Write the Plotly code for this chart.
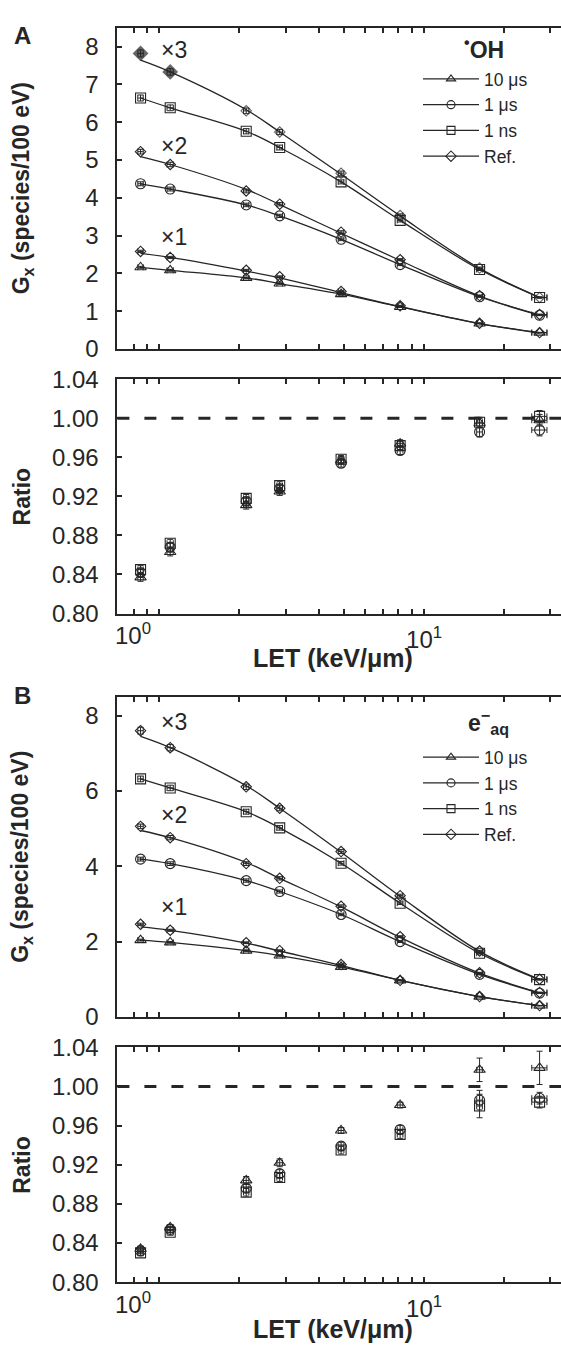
import plotly.graph_objects as go

# ---------------- data ----------------
LET = [0.85, 1.10, 2.13, 2.85, 4.86, 8.12, 16.2, 27.3]
LET_ERR = [0.02, 0.03, 0.05, 0.07, 0.12, 0.2, 0.4, 1.8]

# Panel A : OH  (plotted values, already multiplied by x1/x2/x3)
A_REF3 = [7.82, 7.33, 6.30, 5.74, 4.65, 3.53, 2.14, 1.36]
A_REF3_FIT = [7.64, 7.33, 6.33, 5.74, 4.62, 3.52, 2.13, 1.36]
A_NS1_3 = [6.64, 6.38, 5.76, 5.33, 4.42, 3.40, 2.10, 1.36]
A_REF2 = [5.22, 4.88, 4.18, 3.83, 3.09, 2.36, 1.41, 0.91]
A_REF2_FIT = [5.09, 4.88, 4.22, 3.82, 3.06, 2.34, 1.40, 0.90]
A_US1_2 = [4.37, 4.23, 3.81, 3.52, 2.90, 2.23, 1.38, 0.89]
A_REF1 = [2.58, 2.42, 2.08, 1.91, 1.52, 1.14, 0.68, 0.43]
A_REF1_FIT = [2.53, 2.42, 2.06, 1.88, 1.49, 1.12, 0.67, 0.42]
A_US10_1 = [2.16, 2.08, 1.88, 1.73, 1.45, 1.11, 0.67, 0.43]

A_RATIO_US10 = [0.837, 0.863, 0.911, 0.925, 0.957, 0.974, 0.995, 0.998]
A_RATIO_US1 = [0.842, 0.868, 0.915, 0.928, 0.954, 0.967, 0.986, 0.988]
A_RATIO_NS1 = [0.845, 0.872, 0.918, 0.931, 0.958, 0.972, 0.996, 1.002]
A_RATIO_ERR = [0.004, 0.004, 0.004, 0.004, 0.004, 0.004, 0.005, 0.006]

# Panel B : e-aq
B_REF3 = [7.60, 7.15, 6.11, 5.54, 4.39, 3.22, 1.75, 1.00]
B_REF3_FIT = [7.45, 7.15, 6.14, 5.54, 4.37, 3.20, 1.74, 1.00]
B_NS1_3 = [6.32, 6.08, 5.45, 5.02, 4.08, 3.02, 1.69, 0.99]
B_REF2 = [5.06, 4.76, 4.07, 3.68, 2.94, 2.13, 1.17, 0.65]
B_REF2_FIT = [4.95, 4.76, 4.10, 3.68, 2.92, 2.11, 1.16, 0.64]
B_US1_2 = [4.19, 4.07, 3.62, 3.33, 2.72, 2.00, 1.13, 0.63]
B_REF1 = [2.46, 2.30, 1.97, 1.76, 1.39, 0.97, 0.54, 0.30]
B_REF1_FIT = [2.39, 2.30, 1.96, 1.75, 1.37, 0.97, 0.54, 0.30]
B_US10_1 = [2.04, 1.98, 1.76, 1.63, 1.33, 0.97, 0.54, 0.30]

B_RATIO_US10 = [0.834, 0.856, 0.904, 0.922, 0.955, 0.981, 1.017, 1.019]
B_RATIO_US10_ERR = [0.003, 0.003, 0.004, 0.004, 0.003, 0.003, 0.012, 0.017]
B_RATIO_US1 = [0.832, 0.854, 0.896, 0.911, 0.939, 0.956, 0.986, 0.988]
B_RATIO_US1_ERR = [0.003, 0.003, 0.004, 0.004, 0.004, 0.004, 0.010, 0.006]
B_RATIO_NS1 = [0.830, 0.851, 0.892, 0.907, 0.935, 0.951, 0.980, 0.984]
B_RATIO_NS1_ERR = [0.003, 0.003, 0.004, 0.004, 0.004, 0.004, 0.012, 0.006]

LEGEND_NAMES = ["10 \u03bcs", "1 \u03bcs", "1 ns", "Ref."]
X_TICKS = [0.8, 0.9, 1, 2, 3, 4, 5, 6, 7, 8, 9, 10, 20, 30]
X_TICKTEXT = ["", "", "", "", "", "", "", "", "", "", "", "10<sup>1</sup>", "", ""]

# ---------------- style ----------------
INK = "#262626"
FONT = "Arial, Liberation Sans, sans-serif"
W, H = 561, 1355
SYM = {"us10": "triangle-up-open", "us1": "circle-open", "ns1": "square-open", "ref": "diamond-open"}
SIZE = {"us10": 10, "us1": 10, "ns1": 10, "ref": 8}

X_DOM = [117.4 / W, 1.0]
def ydom(top_px, bot_px):
    return [1 - bot_px / H, 1 - top_px / H]

DOMS = {
    "y": ydom(14, 341.7),
    "y2": ydom(372.7, 611.7),
    "y3": ydom(696.7, 1023.3),
    "y4": ydom(1054.3, 1294),
}

fig = go.Figure()

def add_fit(y, xa, ya):
    fig.add_trace(go.Scatter(x=LET, y=y, mode="lines", line=dict(color=INK, width=1.3, shape="spline", smoothing=1.0),
                             xaxis=xa, yaxis=ya, showlegend=False, hoverinfo="skip"))

def add_pts(y, kind, xa, ya, yerr_pct=None, yerr=None, symbols=None, sizes=None):
    ey = dict(type="percent", value=yerr_pct, color=INK, thickness=1, width=3) if yerr_pct is not None else \
        dict(type="data", array=yerr, color=INK, thickness=1, width=3)
    fig.add_trace(go.Scatter(
        x=LET, y=y, mode="markers", xaxis=xa, yaxis=ya, showlegend=False,
        marker=dict(symbol=symbols if symbols else SYM[kind], size=sizes if sizes else SIZE[kind],
                    color=INK, line=dict(color=INK, width=1.1)),
        error_x=dict(type="data", array=LET_ERR, color=INK, thickness=1, width=3),
        error_y=ey))

# panel A top
for fit, pts, kind, extra in [
    (A_REF3_FIT, A_REF3, "ref", dict(symbols=["diamond", "diamond"] + ["diamond-open"] * 6,
                                     sizes=[11, 11] + [8] * 6)),
    (A_NS1_3, A_NS1_3, "ns1", {}),
    (A_REF2_FIT, A_REF2, "ref", {}),
    (A_US1_2, A_US1_2, "us1", {}),
    (A_REF1_FIT, A_REF1, "ref", {}),
    (A_US10_1, A_US10_1, "us10", {}),
]:
    add_fit(fit, "x", "y")
    add_pts(pts, kind, "x", "y", yerr_pct=1.2, **extra)

# panel B top
for fit, pts, kind in [
    (B_REF3_FIT, B_REF3, "ref"), (B_NS1_3, B_NS1_3, "ns1"),
    (B_REF2_FIT, B_REF2, "ref"), (B_US1_2, B_US1_2, "us1"),
    (B_REF1_FIT, B_REF1, "ref"), (B_US10_1, B_US10_1, "us10"),
]:
    add_fit(fit, "x3", "y3")
    add_pts(pts, kind, "x3", "y3", yerr_pct=1.2)

# ratio panels
for y, kind in [(A_RATIO_NS1, "ns1"), (A_RATIO_US1, "us1"), (A_RATIO_US10, "us10")]:
    add_pts(y, kind, "x2", "y2", yerr=A_RATIO_ERR)
for y, e, kind in [(B_RATIO_NS1, B_RATIO_NS1_ERR, "ns1"), (B_RATIO_US1, B_RATIO_US1_ERR, "us1"),
                   (B_RATIO_US10, B_RATIO_US10_ERR, "us10")]:
    add_pts(y, kind, "x4", "y4", yerr=e)

# legend entries
for lg in ["legend", "legend2"]:
    for name, kind in zip(LEGEND_NAMES, ["us10", "us1", "ns1", "ref"]):
        fig.add_trace(go.Scatter(x=[None], y=[None], mode="lines+markers", name=name, legend=lg,
                                 xaxis="x", yaxis="y",
                                 line=dict(color=INK, width=1.3),
                                 marker=dict(symbol=SYM[kind], size=8, color=INK, line=dict(color=INK, width=1.1))))

# axes
x_common = dict(type="log", range=[-0.158, 1.517], domain=X_DOM, showline=True, linecolor=INK, linewidth=2,
                mirror="ticks", ticks="inside", ticklen=5, tickwidth=1.5, tickcolor=INK,
                tickvals=X_TICKS, showgrid=False, zeroline=False)
y_common = dict(showline=True, linecolor=INK, linewidth=2, ticks="inside", ticklen=5, tickwidth=1.5,
                tickcolor=INK, showgrid=False, zeroline=False,
                tickfont=dict(family=FONT, size=24, color=INK), ticklabelstandoff=12)

layout = dict(width=W, height=H, margin=dict(l=0, r=0, t=0, b=0), plot_bgcolor="white", paper_bgcolor="white",
              font=dict(family=FONT, color=INK))
for i, ax in enumerate(["x", "x2", "x3", "x4"], start=1):
    key = "xaxis" if i == 1 else f"xaxis{i}"
    anchor = "y" if i == 1 else f"y{i}"
    d = dict(x_common, anchor=anchor)
    if i in (2, 4):
        d.update(ticktext=X_TICKTEXT, tickfont=dict(family=FONT, size=24, color=INK), ticklabelstandoff=4)
    else:
        d.update(showticklabels=False)
    layout[key] = d
layout["yaxis"] = dict(y_common, domain=DOMS["y"], range=[0, 8.5], dtick=1, anchor="x")
layout["yaxis2"] = dict(y_common, domain=DOMS["y2"], range=[0.80, 1.04], dtick=0.04, tickformat=".2f", anchor="x2")
layout["yaxis3"] = dict(y_common, domain=DOMS["y3"], range=[0, 8.5], dtick=2, anchor="x3")
layout["yaxis4"] = dict(y_common, domain=DOMS["y4"], range=[0.80, 1.04], dtick=0.04, tickformat=".2f", anchor="x4")

leg_common = dict(xanchor="left", yanchor="top", bgcolor="rgba(0,0,0,0)", borderwidth=0,
                  font=dict(family=FONT, size=17.5, color=INK), itemwidth=56, tracegroupgap=0,
                  itemclick=False)
layout["legend"] = dict(leg_common, x=418 / W, y=1 - 48 / H)
layout["legend2"] = dict(leg_common, x=418 / W, y=1 - 740 / H)
layout["showlegend"] = True

# dashed reference line at ratio = 1
layout["shapes"] = [
    dict(type="line", xref=f"{xa} domain", x0=0, x1=1, yref=ya, y0=1, y1=1,
         line=dict(color=INK, width=3, dash="12px,15px"))
    for xa, ya in [("x2", "y2"), ("x4", "y4")]
]

ann = []
def txt(text, x, y, size, xref="paper", yref="paper", xanchor="center", yanchor="middle", angle=0, xshift=0):
    ann.append(dict(text=text, x=x, y=y, xref=xref, yref=yref, xanchor=xanchor, yanchor=yanchor,
                    textangle=angle, xshift=xshift, showarrow=False,
                    font=dict(family=FONT, size=size, color=INK)))

txt("<b>A</b>", 22 / W, 1 - 22 / H, 24)
txt("<b>B</b>", 22 / W, 1 - 695 / H, 24)
for top, bot in [(14, 341.7), (696.7, 1023.3)]:
    txt("<b>G<sub>x</sub> (species/100 eV)</b>", 22 / W, 1 - (top + bot) / 2 / H, 23, angle=-90)
for top, bot in [(372.7, 611.7), (1054.3, 1294)]:
    txt("<b>Ratio</b>", 22 / W, 1 - (top + bot) / 2 / H, 23, angle=-90)
txt("<b>LET (keV/\u03bcm)</b>", 333 / W, 1 - 657 / H, 25)
txt("<b>LET (keV/\u03bcm)</b>", 333 / W, 1 - 1342 / H, 25)
txt("10<sup>0</sup>", 0, 1 - 633 / H, 24, xref="x2", xshift=-26)
txt("10<sup>0</sup>", 0, 1 - 1315 / H, 24, xref="x4", xshift=-26)
txt("<b><sup>\u2022</sup>OH</b>", 462 / W, 1 - 35 / H, 23, xanchor="left")
txt("<b>e<sup>\u2212</sup><sub>aq</sub></b>", 466 / W, 1 - 722 / H, 23, xanchor="left")
for lab, yv in [("\u00d73", 7.92), ("\u00d72", 5.37), ("\u00d71", 2.95)]:
    txt(lab, 0, yv, 23, xref="x", yref="y", xanchor="left")
for lab, yv in [("\u00d73", 7.83), ("\u00d72", 5.35), ("\u00d71", 2.91)]:
    txt(lab, 0, yv, 23, xref="x3", yref="y3", xanchor="left")
layout["annotations"] = ann

fig.update_layout(layout)
fig.write_html("out.html")
